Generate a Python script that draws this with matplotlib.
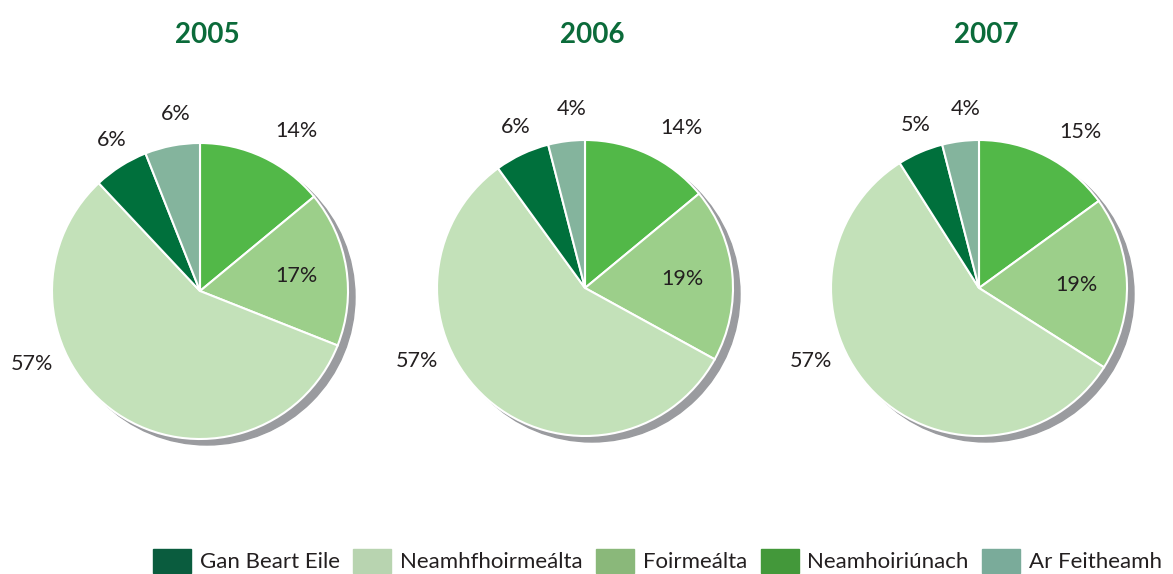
import matplotlib.pyplot as plt
from matplotlib.patches import Circle, Patch
import numpy as np

plt.rcParams['font.family'] = ['Lato', 'DejaVu Sans']

years = ['2005', '2006', '2007']
# order as drawn, clockwise from 12 o'clock
categories = ['Neamhoiriúnach', 'Foirmeálta', 'Neamhfhoirmeálta', 'Gan Beart Eile', 'Ar Feitheamh']
shares = {
    '2005': [14, 17, 57, 6, 6],
    '2006': [14, 19, 57, 6, 4],
    '2007': [15, 19, 57, 5, 4],
}
legend_order = ['Gan Beart Eile', 'Neamhfhoirmeálta', 'Foirmeálta', 'Neamhoiriúnach', 'Ar Feitheamh']

pie_colors = ['#52b848', '#9ccf8a', '#c3e1b9', '#00703c', '#84b49d']
legend_colors = {'Gan Beart Eile': '#0a5c3e', 'Neamhfhoirmeálta': '#b8d4b0',
                 'Foirmeálta': '#8ab87a', 'Neamhoiriúnach': '#43983a',
                 'Ar Feitheamh': '#7aab9a'}

W, H = 1173, 574
fig = plt.figure(figsize=(W / 100, H / 100), dpi=100)
ax = fig.add_axes([0, 0, 1, 1])

centers = [(200, H - 291), (585, H - 288), (979, H - 288)]
R = 148
# label distance (in radii) and angle nudge (deg) per slice
label_r = [1.26, 0.66, 1.24, 1.18, 1.21]
label_da = [-6, 0, 0, -2, -3]

for yr, c in zip(years, centers):
    ax.add_patch(Circle((c[0] + 7, c[1] - 6), R, color='#9a9b9f', zorder=1))
    wedges, _ = ax.pie(shares[yr], colors=pie_colors, startangle=90, counterclock=False,
                       center=c, radius=R,
                       wedgeprops=dict(edgecolor='white', linewidth=1.5, zorder=2))
    for i, w in enumerate(wedges):
        a = (w.theta1 + w.theta2) / 2 + label_da[i]
        if categories[i] == 'Neamhfhoirmeálta':
            a = 203.5
        ang = np.deg2rad(a)
        x = c[0] + label_r[i] * R * np.cos(ang)
        y = c[1] + label_r[i] * R * np.sin(ang)
        ax.text(x, y, f'{shares[yr][i]}%', ha='center', va='center', fontsize=15.5,
                color='#231f20', zorder=3)
    ax.text(c[0] + 7, H - 35, yr, ha='center', va='center', fontsize=20,
            fontweight='bold', color='#0b6b3a')

ax.set_xlim(0, W)
ax.set_ylim(0, H)
ax.set_aspect('equal')
ax.axis('off')

handles = [Patch(color=legend_colors[k]) for k in legend_order]
fig.legend(handles, legend_order, ncol=5, loc='center right',
           bbox_to_anchor=(1162 / W, (H - 561) / H),
           frameon=False, fontsize=16, handlelength=1.71, handleheight=1.35,
           handletextpad=0.4, columnspacing=0.6, borderpad=0, borderaxespad=0,
           labelcolor='#231f20')

fig.savefig('out.png', dpi=100)
